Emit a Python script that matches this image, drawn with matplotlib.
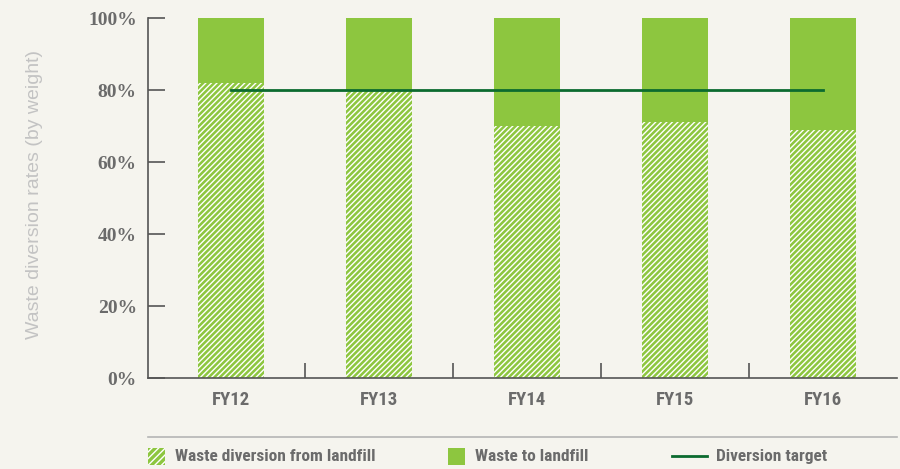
import matplotlib
matplotlib.use("Agg")
import matplotlib.pyplot as plt
from matplotlib import font_manager
from matplotlib.patches import Rectangle
from matplotlib.lines import Line2D
from matplotlib.ticker import FixedLocator

years = ["FY12", "FY13", "FY14", "FY15", "FY16"]
diversion = [82, 80, 70, 71, 69]
landfill = [100 - v for v in diversion]
target = 80
y_ticks = [0, 20, 40, 60, 80, 100]

BG = "#f5f4ee"
GREEN = "#8dc63f"
DARK = "#0b6b2f"
AXIS = "#555555"
TEXT = "#6b6b6b"

fonts = font_manager.fontManager.ttflist
names = {f.name for f in fonts}
narrow = [n for n in ("Liberation Sans Narrow", "DejaVu Sans Condensed",
                      "Roboto Condensed") if n in names]
NARROW = narrow + ["DejaVu Sans"]

# plain-width sans for the axis title
regular = [f.fname for f in fonts if f.name == "Liberation Sans"
           and f.style == "normal" and f.weight in (400, "normal")
           and "Narrow" not in f.fname]
print(regular)
ylab_font = (font_manager.FontProperties(fname=regular[0], size=14)
             if regular else font_manager.FontProperties(family="DejaVu Sans", size=13.5))

fig = plt.figure(figsize=(9.0, 4.69), dpi=100, facecolor=BG)
ax = fig.add_axes([0.1644, 0.194, 0.8323, 0.7676], facecolor=BG)

x = list(range(len(years)))
plt.rcParams["hatch.linewidth"] = 1.0
ax.bar(x, diversion, width=0.45, color=GREEN, edgecolor="white",
       hatch="//////", linewidth=0)
ax.bar(x, landfill, bottom=diversion, width=0.45, color=GREEN, linewidth=0)
ax.plot([x[0], x[-1]], [target, target], color=DARK, lw=2)

ax.set_xlim(-0.56, 4.5)
ax.set_ylim(0, 100)
for s in ("top", "right"):
    ax.spines[s].set_visible(False)
for s in ("left", "bottom"):
    ax.spines[s].set_color(AXIS)
    ax.spines[s].set_linewidth(1.2)

ax.set_yticks(y_ticks)
ax.set_yticklabels([f"{v}%" for v in y_ticks], family="Liberation Serif",
                   fontweight="bold", fontsize=14, color=TEXT)
ax.tick_params(axis="y", direction="in", length=12, width=1.2, color=AXIS, pad=8)

ax.set_xticks(x)
ax.set_xticklabels(years, family=NARROW, stretch="condensed", fontweight="bold",
                   fontsize=13.5, color=TEXT)
ax.tick_params(axis="x", which="major", length=0, pad=9)
ax.xaxis.set_minor_locator(FixedLocator([0.5, 1.5, 2.5, 3.5]))
ax.tick_params(axis="x", which="minor", direction="in", length=11, width=1.2, color=AXIS)

fig.text(0.038, 0.585, "Waste diversion rates (by weight)", rotation=90,
         fontproperties=ylab_font, ha="center", va="center", color="#c3c3c3")

# legend row under a separator line
fig.add_artist(Line2D([0.1644, 0.9967], [1 - 437 / 469] * 2, color="#b5b5b5", lw=1.2))
ly = 1 - 456 / 469
sq_w, sq_h = 17 / 900, 17 / 469
fig.add_artist(Rectangle((148 / 900, ly - sq_h / 2), sq_w, sq_h, facecolor=GREEN,
                         edgecolor="white", hatch="/////", linewidth=0))
fig.text(175 / 900, ly, "Waste diversion from landfill", family=NARROW,
         stretch="condensed", fontweight="bold", fontsize=12.5, color=TEXT, va="center")
fig.add_artist(Rectangle((448 / 900, ly - sq_h / 2), sq_w, sq_h, facecolor=GREEN,
                         linewidth=0))
fig.text(475 / 900, ly, "Waste to landfill", family=NARROW,
         stretch="condensed", fontweight="bold", fontsize=12.5, color=TEXT, va="center")
fig.add_artist(Line2D([672 / 900, 707 / 900], [ly, ly], color=DARK, lw=2))
fig.text(716 / 900, ly, "Diversion target", family=NARROW,
         stretch="condensed", fontweight="bold", fontsize=12.5, color=TEXT, va="center")

fig.savefig("out.png", dpi=100, facecolor=BG)
